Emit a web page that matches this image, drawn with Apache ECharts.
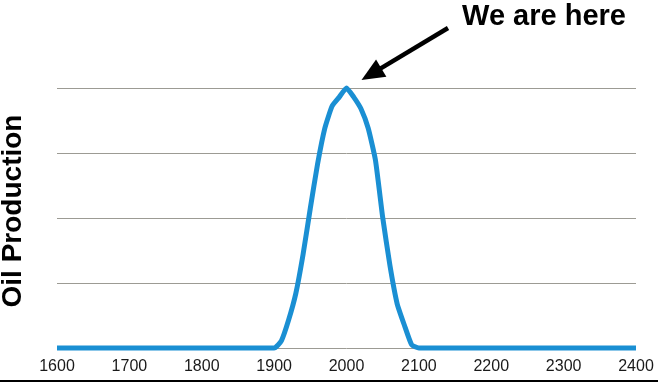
<!DOCTYPE html>
<html>
<head>
<meta charset="utf-8">
<style>
  html, body { margin: 0; padding: 0; background: #ffffff; }
  #chart { width: 658px; height: 382px; }
</style>
<script src="https://cdn.jsdelivr.net/npm/echarts@6/dist/echarts.min.js"></script>
</head>
<body>
<div id="chart"></div>
<script>
// ---- data ----
var years = [1600, 1900, 1910, 1920, 1930, 1940, 1950, 1960, 1970, 1980, 1990, 2000,
             2010, 2020, 2030, 2040, 2050, 2060, 2070, 2080, 2090, 2100, 2400];
var production = [0, 0, 0.11, 0.43, 0.84, 1.44, 2.15, 2.83, 3.38, 3.72, 3.86, 4.0,
                  3.86, 3.68, 3.38, 2.89, 2.01, 1.27, 0.68, 0.35, 0.05, 0, 0];
var xTicks = [1600, 1700, 1800, 1900, 2000, 2100, 2200, 2300, 2400];
var peakYear = 2000;
var peakValue = 4;
var yAxisTitle = 'Oil Production';
var annotationText = 'We are here';

var seriesData = years.map(function (y, i) { return [y, production[i]]; });

var chart = echarts.init(document.getElementById('chart'), null, { renderer: 'canvas' });
var FONT = '"Liberation Sans", Arial, Helvetica, sans-serif';

var option = {
  backgroundColor: '#ffffff',
  animation: false,
  grid: { left: 57, right: 22, top: 88, bottom: 34, containLabel: false },
  xAxis: {
    type: 'value',
    min: xTicks[0],
    max: xTicks[xTicks.length - 1],
    interval: 100,
    axisLine: { show: false },
    axisTick: { show: false },
    splitLine: { show: false },
    axisLabel: {
      show: true,
      margin: 11,
      fontSize: 16,
      color: '#1a1a1a',
      fontFamily: FONT,
      showMinLabel: true,
      showMaxLabel: true,
      formatter: function (v) { return xTicks.indexOf(v) >= 0 ? String(v) : ''; }
    }
  },
  yAxis: {
    type: 'value',
    min: 0,
    max: 4,
    interval: 1,
    axisLine: { show: false },
    axisTick: { show: false },
    axisLabel: { show: false },
    splitLine: { show: true, lineStyle: { color: '#9c9b94', width: 1 } }
  },
  series: [{
    type: 'line',
    data: seriesData,
    symbol: 'none',
    smooth: 0.15,
    clip: false,
    lineStyle: { color: '#1a8fd3', width: 5, join: 'miter', cap: 'butt' }
  }]
};
chart.setOption(option);

// annotations
var tip = chart.convertToPixel({ gridIndex: 0 }, [peakYear, peakValue]);
var tipX = tip[0] + 15, tipY = tip[1] - 8;
var tailX = 448, tailY = 28;
var dx = tipX - tailX, dy = tipY - tailY;
var len = Math.sqrt(dx * dx + dy * dy);
var ux = dx / len, uy = dy / len;
var nx = -uy, ny = ux;
var headLen = 23, headHalf = 10;
var bx = tipX - headLen * ux, by = tipY - headLen * uy;

chart.setOption({
  graphic: [
    {
      type: 'text',
      x: 13, y: 211,
      rotation: Math.PI / 2,
      style: {
        text: yAxisTitle,
        font: 'bold 28px ' + FONT,
        fill: '#000000',
        align: 'center',
        verticalAlign: 'middle'
      }
    },
    {
      type: 'text',
      x: 544, y: 17,
      style: {
        text: annotationText,
        font: 'bold 29px ' + FONT,
        fill: '#000000',
        align: 'center',
        verticalAlign: 'middle'
      }
    },
    {
      type: 'line',
      shape: { x1: tailX, y1: tailY, x2: bx + 2 * ux, y2: by + 2 * uy },
      style: { stroke: '#000000', lineWidth: 4.5 }
    },
    {
      type: 'polygon',
      shape: { points: [[tipX, tipY], [bx + headHalf * nx, by + headHalf * ny], [bx - headHalf * nx, by - headHalf * ny]] },
      style: { fill: '#000000' }
    },
    {
      type: 'rect',
      shape: { x: 0, y: 380, width: 658, height: 2 },
      style: { fill: '#000000' }
    }
  ]
});
</script>
</body>
</html>
